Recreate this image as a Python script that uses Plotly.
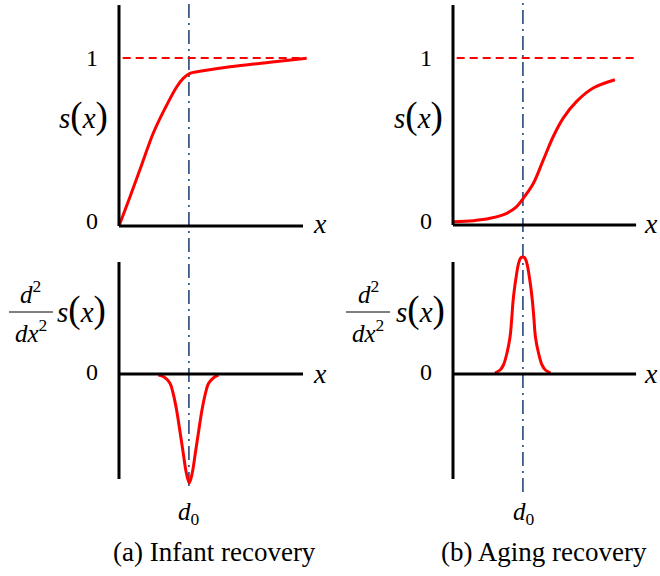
import plotly.graph_objects as go

W, H = 660, 576

# ---- data (conceptual units) ----
d0 = 0.38

infant_x = [0.0, 0.060, 0.123, 0.186, 0.250, 0.314, 0.349, 0.386, 0.457, 0.603, 0.820, 1.020]
infant_y = [0.0, 0.174, 0.363, 0.552, 0.700, 0.829, 0.879, 0.909, 0.924, 0.948, 0.975, 0.998]

aging_x = [0.0, 0.111, 0.201, 0.292, 0.346, 0.382, 0.437, 0.491, 0.545, 0.599, 0.672, 0.762, 0.880]
aging_y = [0.02, 0.026, 0.040, 0.070, 0.110, 0.160, 0.250, 0.390, 0.530, 0.640, 0.740, 0.820, 0.870]

infant_d2_x = [0.214, 0.245, 0.277, 0.295, 0.313, 0.331, 0.349, 0.366, 0.382, 0.398, 0.415, 0.433, 0.451, 0.469, 0.487, 0.519, 0.540]
infant_d2_y = [-0.01, -0.03, -0.093, -0.20, -0.36, -0.57, -0.79, -0.99, -1.09, -0.99, -0.79, -0.57, -0.36, -0.20, -0.093, -0.03, -0.01]

aging_d2_x = [0.228, 0.256, 0.274, 0.292, 0.310, 0.319, 0.327, 0.336, 0.344, 0.353, 0.362, 0.370, 0.379, 0.388, 0.396, 0.405, 0.414, 0.422, 0.431, 0.440, 0.448, 0.466, 0.484, 0.502, 0.530]
aging_d2_y = [0.01, 0.04, 0.09, 0.20, 0.37, 0.55, 0.74, 0.88, 0.98, 1.08, 1.14, 1.165, 1.17, 1.165, 1.14, 1.08, 0.98, 0.88, 0.74, 0.55, 0.37, 0.20, 0.09, 0.04, 0.01]

ref_level = 1.0
ref_x = [0.02, 1.0]

RED = "#FF0000"
BLUE = "#24477A"
FONT = "Liberation Serif"

# ---- panel geometry helper: origin pixel, unit pixels, pixel box ----
def axes_for(ox, oy, ux, uy, x0, x1, ytop, ybot):
    xa = dict(domain=[x0 / W, x1 / W], range=[(x0 - ox) / ux, (x1 - ox) / ux],
              visible=False, fixedrange=True)
    ya = dict(domain=[1 - ybot / H, 1 - ytop / H], range=[(oy - ybot) / uy, (oy - ytop) / uy],
              visible=False, fixedrange=True)
    return xa, ya

panels = {
    "1": axes_for(119, 226, 184, 168, 100, 335, 0, 250),
    "2": axes_for(453, 225, 184, 167, 430, 660, 0, 250),
    "3": axes_for(119, 374, 184, 100, 100, 335, 250, 500),
    "4": axes_for(453, 374, 184, 100, 430, 660, 250, 500),
}

fig = go.Figure()

def ax(k):
    return ("x" if k == "1" else "x" + k), ("y" if k == "1" else "y" + k)

curve = dict(color=RED, width=3, shape="spline", smoothing=1.0)
for k, xs, ys in [("1", infant_x, infant_y), ("2", aging_x, aging_y),
                  ("3", infant_d2_x, infant_d2_y), ("4", aging_d2_x, aging_d2_y)]:
    xr, yr = ax(k)
    fig.add_trace(go.Scatter(x=xs, y=ys, mode="lines", line=curve, xaxis=xr, yaxis=yr,
                             hoverinfo="skip", showlegend=False))

for k in ["1", "2"]:
    xr, yr = ax(k)
    fig.add_trace(go.Scatter(x=ref_x, y=[ref_level, ref_level], mode="lines",
                             line=dict(color=RED, width=2, dash="8px,5px"),
                             xaxis=xr, yaxis=yr, hoverinfo="skip", showlegend=False))

layout = dict(width=W, height=H, margin=dict(l=0, r=0, t=0, b=0),
              paper_bgcolor="white", plot_bgcolor="white", showlegend=False,
              font=dict(family=FONT, size=22, color="black"))
for k, (xa, ya) in panels.items():
    layout["xaxis" if k == "1" else "xaxis" + k] = dict(xa, anchor=ax(k)[1])
    layout["yaxis" if k == "1" else "yaxis" + k] = dict(ya, anchor=ax(k)[0])
fig.update_layout(**layout)

# axis lines
black = dict(color="black", width=3)
axis_specs = [
    ("1", 1.315, 0.0, 1.0),
    ("2", 1.317, 0.0, 0.995),
    ("3", 1.12, -1.05, 1.0),
    ("4", 1.12, -1.05, 0.995),
]
for k, ytop, ybot, xend in axis_specs:
    xr, yr = ax(k)
    fig.add_shape(type="line", xref=xr, yref=yr, x0=0, x1=0, y0=ybot, y1=ytop, line=black)
    fig.add_shape(type="line", xref=xr, yref=yr, x0=0, x1=xend, y0=0, y1=0, line=black)

# d0 dash-dot guides spanning top and bottom panels
for xr, ybot in [("x", 486), ("x2", 492)]:
    fig.add_shape(type="line", xref=xr, yref="paper", x0=d0, x1=d0, y0=1 - ybot / H, y1=1,
                  line=dict(color=BLUE, width=1.6, dash="14px,5px,2px,5px"), layer="below")

def txt(x, y, s, size=22, **kw):
    fig.add_annotation(x=x / W, y=1 - y / H, xref="paper", yref="paper", text=s,
                       showarrow=False, font=dict(family=FONT, size=size, color="black"),
                       xanchor=kw.get("xanchor", "center"), yanchor="middle")

P = '<span style="font-size:37px">%s</span>'
sx = "<i>s</i>" + P % "(" + "<i>x</i>" + P % ")"

for dx, xlab in [(0, 320), (334, 651)]:
    txt(92 + dx, 58, "1", size=24)
    txt(92 + dx, 221, "0", size=24)
    txt(92 + dx, 372, "0", size=24)
    txt(xlab, 224, "<i>x</i>", size=28)
    txt(xlab, 373, "<i>x</i>", size=28)

txt(83, 116, sx, size=29)
txt(418, 116, sx, size=29)

# second-derivative labels
for cx, sxx in [(31, 81), (368, 420)]:
    txt(cx, 292, "<i>d</i><sup>2</sup>", size=25)
    txt(cx, 331, "<i>dx</i><sup>2</sup>", size=25)
    fig.add_shape(type="line", xref="paper", yref="paper", x0=(cx - 22) / W, x1=(cx + 22) / W,
                  y0=1 - 312 / H, y1=1 - 312 / H, line=dict(color="black", width=1))
    txt(sxx, 310, sx, size=29)

txt(189, 513, "<i>d</i><sub>0</sub>", size=25)
txt(524, 513, "<i>d</i><sub>0</sub>", size=25)

txt(214, 552, "(a) Infant recovery", size=27)
txt(544, 552, "(b) Aging recovery", size=27)

fig.write_html("out.html")
